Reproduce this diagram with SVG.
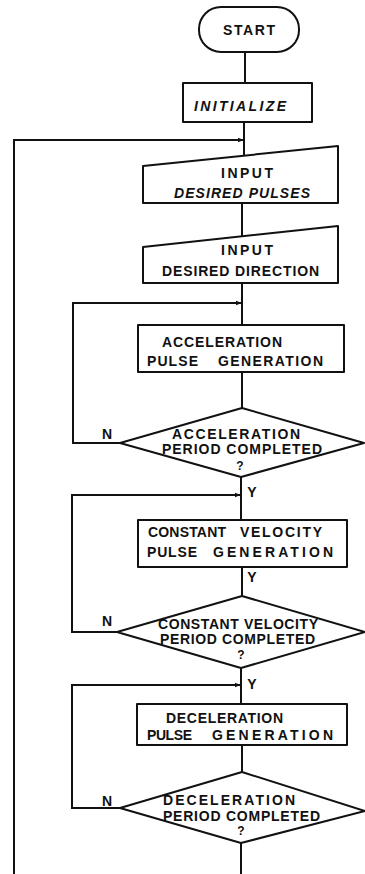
<svg xmlns="http://www.w3.org/2000/svg" width="365" height="874" viewBox="0 0 365 874">
  <style>
    .shape { fill: #ffffff; stroke: #111111; stroke-width: 2; stroke-linejoin: round; }
    .wire { fill: none; stroke: #111111; stroke-width: 2; }
    text { font-family: "Liberation Sans", Arial, Helvetica, sans-serif; font-weight: bold; font-size: 14px; fill: #111111; }
    .it { font-style: italic; }
    .mid { text-anchor: middle; }
    .q { font-size: 12px; }
  </style>
  <defs>
    <marker id="tip" viewBox="0 0 8 8" refX="7" refY="4" markerWidth="6" markerHeight="6" orient="auto" markerUnits="userSpaceOnUse">
      <path d="M0,1 L8,4 L0,7 Z" fill="#111111"/>
    </marker>
  </defs>
  <rect width="365" height="874" fill="#ffffff"/>

  <!-- connectors -->
  <g id="connectors">
    <path class="wire" d="M245,52 L245,83"/>
    <path class="wire" d="M244,122 L244,156"/>
    <path class="wire" d="M242,203 L242,237"/>
    <path class="wire" d="M242,283 L242,325"/>
    <path class="wire" d="M242,372 L242,408"/>
    <path class="wire" d="M241,477 L241,520"/>
    <path class="wire" d="M242,567 L242,596"/>
    <path class="wire" d="M241,668 L241,704"/>
    <path class="wire" d="M242,745 L242,772"/>
    <path class="wire" d="M241,843 L241,874"/>
    <!-- outer return loop -->
    <path class="wire" d="M14,874 L14,140 L243,140" marker-end="url(#tip)"/>
    <!-- acceleration loop -->
    <path class="wire" d="M120,443 L73,443 L73,303 L241,303" marker-end="url(#tip)"/>
    <!-- constant velocity loop -->
    <path class="wire" d="M117,632 L72,632 L72,495 L240,495" marker-end="url(#tip)"/>
    <!-- deceleration loop -->
    <path class="wire" d="M120,808 L72,808 L72,685 L240,685" marker-end="url(#tip)"/>
    <text class="mid" x="107" y="439">N</text>
    <text class="mid" x="252" y="497">Y</text>
    <text class="mid" x="252" y="582">Y</text>
    <text class="mid" x="107" y="626">N</text>
    <text class="mid" x="252" y="689">Y</text>
    <text class="mid" x="107" y="806">N</text>
  </g>

  <g id="start">
    <rect class="shape" x="199" y="7" width="100" height="45" rx="22" ry="22"/>
    <text x="223" y="35" textLength="52" lengthAdjust="spacing">START</text>
  </g>

  <g id="initialize">
    <rect class="shape" x="183" y="83" width="129" height="39"/>
    <text class="it" x="194" y="111" textLength="92" lengthAdjust="spacing">INITIALIZE</text>
  </g>

  <g id="input-pulses">
    <path class="shape" d="M143,166 L338,146 L338,203 L143,203 Z"/>
    <text x="221" y="178" textLength="52" lengthAdjust="spacing">INPUT</text>
    <text class="it" x="174" y="198" textLength="136" lengthAdjust="spacing">DESIRED PULSES</text>
  </g>

  <g id="input-direction">
    <path class="shape" d="M143,247 L338,226 L338,283 L143,283 Z"/>
    <text x="221" y="255" textLength="52" lengthAdjust="spacing">INPUT</text>
    <text x="162" y="276" textLength="157" lengthAdjust="spacing">DESIRED DIRECTION</text>
  </g>

  <g id="accel-gen">
    <rect class="shape" x="138" y="325" width="206" height="47"/>
    <text x="162" y="347" textLength="120" lengthAdjust="spacing">ACCELERATION</text>
    <text y="366"><tspan x="147" textLength="51" lengthAdjust="spacing">PULSE</tspan> <tspan x="218" textLength="105" lengthAdjust="spacing">GENERATION</tspan></text>
  </g>

  <g id="accel-check">
    <path class="shape" d="M242,408 L364,443 L241,477 L120,443 Z"/>
    <text x="172" y="439" textLength="128" lengthAdjust="spacing">ACCELERATION</text>
    <text x="162" y="454" textLength="160" lengthAdjust="spacing">PERIOD COMPLETED</text>
    <text class="mid q" x="240" y="470">?</text>
  </g>

  <g id="const-gen">
    <rect class="shape" x="138" y="520" width="209" height="47"/>
    <text y="537"><tspan x="148" textLength="78" lengthAdjust="spacing">CONSTANT</tspan> <tspan x="240" textLength="82" lengthAdjust="spacing">VELOCITY</tspan></text>
    <text y="557"><tspan x="147" textLength="50" lengthAdjust="spacing">PULSE</tspan> <tspan x="213" textLength="120" lengthAdjust="spacing">GENERATION</tspan></text>
  </g>

  <g id="const-check">
    <path class="shape" d="M242,596 L365,632 L241,668 L117,632 Z"/>
    <text x="158" y="629" textLength="160" lengthAdjust="spacing">CONSTANT VELOCITY</text>
    <text x="160" y="644" textLength="155" lengthAdjust="spacing">PERIOD COMPLETED</text>
    <text class="mid q" x="241" y="659">?</text>
  </g>

  <g id="decel-gen">
    <rect class="shape" x="137" y="704" width="210" height="41"/>
    <text x="166" y="723" textLength="117" lengthAdjust="spacing">DECELERATION</text>
    <text y="740"><tspan x="147" textLength="45" lengthAdjust="spacing">PULSE</tspan> <tspan x="212" textLength="121" lengthAdjust="spacing">GENERATION</tspan></text>
  </g>

  <g id="decel-check">
    <path class="shape" d="M242,772 L365,811 L241,843 L120,808 Z"/>
    <text x="163" y="805" textLength="132" lengthAdjust="spacing">DECELERATION</text>
    <text x="163" y="821" textLength="157" lengthAdjust="spacing">PERIOD COMPLETED</text>
    <text class="mid q" x="241" y="835">?</text>
  </g>
</svg>
